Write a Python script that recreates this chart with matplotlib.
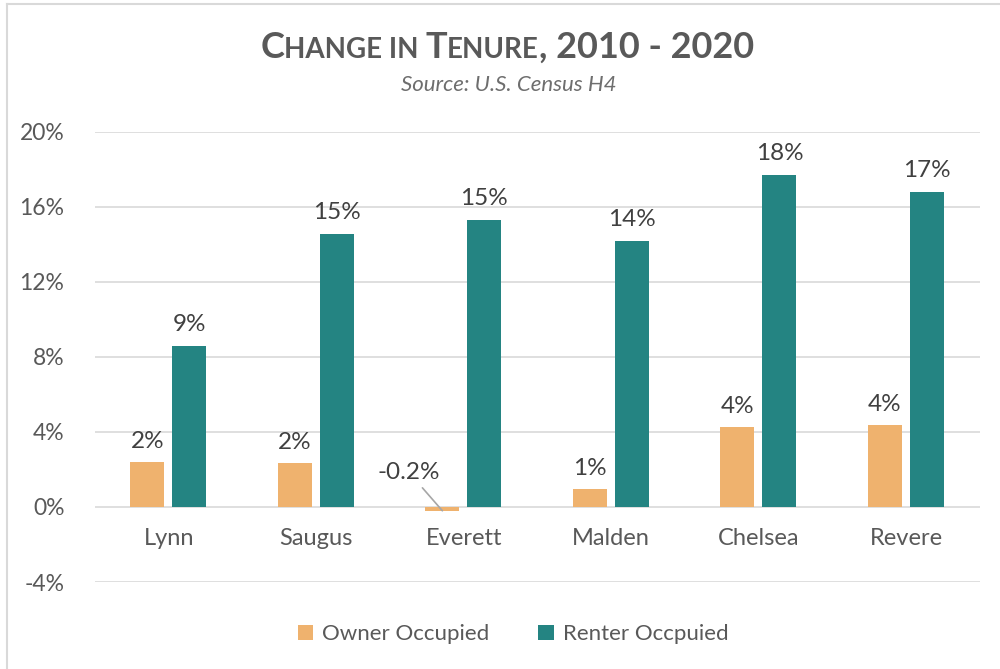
import matplotlib

matplotlib.use("Agg")
import matplotlib.pyplot as plt
import numpy as np

# data
towns = ["Lynn", "Saugus", "Everett", "Malden", "Chelsea", "Revere"]
owner = [2.4, 2.35, -0.2, 0.96, 4.27, 4.37]
renter = [8.6, 14.56, 15.3, 14.19, 17.7, 16.8]
owner_labels = ["2%", "2%", "-0.2%", "1%", "4%", "4%"]
renter_labels = ["9%", "15%", "15%", "14%", "18%", "17%"]
yticks = [-4, 0, 4, 8, 12, 16, 20]

OWNER_C = "#EFB26E"
RENTER_C = "#248482"
TXT = "#595959"
GRID = "#D9D9D9"

plt.rcParams["font.family"] = ["Lato", "DejaVu Sans"]

fig = plt.figure(figsize=(10, 6.69), dpi=100)
ax = fig.add_axes([0.095, 0.130, 0.885, 0.673])

x = np.arange(len(towns))
w = 0.23
ax.bar(x - 0.145, owner, w, color=OWNER_C, label="Owner Occupied", zorder=3)
ax.bar(x + 0.14, renter, w, color=RENTER_C, label="Renter Occpuied", zorder=3)

ax.set_xlim(-0.5, len(towns) - 0.5)
ax.set_ylim(-4, 20)
ax.set_yticks(yticks)
ax.set_yticklabels([f"{t}%" for t in yticks], fontsize=16.5, color=TXT)
ax.tick_params(axis="y", length=0, pad=22)
ax.set_xticks([])
ax.grid(axis="y", color=GRID, lw=1.2, zorder=0)
for s in ax.spines.values():
    s.set_visible(False)

for i, t in enumerate(towns):
    ax.annotate(t, (i, 0), xytext=(0, -15), textcoords="offset points",
                ha="center", va="top", fontsize=17, color=TXT)

for i, (v, lab) in enumerate(zip(renter, renter_labels)):
    ax.annotate(lab, (i + 0.14, v), xytext=(0, 8), textcoords="offset points",
                ha="center", va="bottom", fontsize=17.5, color="#404040")
for i, (v, lab) in enumerate(zip(owner, owner_labels)):
    if v < 0:
        ax.annotate(lab, (i - 0.145, v), xytext=(-24, 20), textcoords="offset points",
                    ha="center", va="bottom", fontsize=17.5, color="#404040",
                    arrowprops=dict(arrowstyle="-", color="#A6A6A6", lw=1.2,
                                    shrinkA=2, shrinkB=0))
    else:
        ax.annotate(lab, (i - 0.145, v), xytext=(0, 7), textcoords="offset points",
                    ha="center", va="bottom", fontsize=17.5, color="#404040")

leg = fig.legend(loc="center", bbox_to_anchor=(0.513, 0.052), ncol=2, frameon=False,
                 fontsize=16, handlelength=0.7, handleheight=0.7, handletextpad=0.4,
                 columnspacing=2.2)
for t in leg.get_texts():
    t.set_color(TXT)

# small-caps title, built piece by piece
pieces = [("C", 26), ("HANGE IN ", 20), ("T", 26), ("ENURE", 20), (", 2010 - 2020", 26)]
fig.canvas.draw()
r = fig.canvas.get_renderer()
texts = []
for s, sz in pieces:
    texts.append(fig.text(0, 0.913, s, fontsize=sz, fontweight="bold", color=TXT,
                          ha="left", va="baseline"))
widths = [t.get_window_extent(r).width for t in texts]
xpos = 507 - sum(widths) / 2
for t, wd in zip(texts, widths):
    t.set_x(xpos / 1000)
    xpos += wd

fig.text(0.509, 0.873, "Source: U.S. Census H4", fontsize=16, style="italic",
         color="#6E6E6E", ha="center", va="center")

# chart border
fig.add_artist(plt.Line2D([0.007, 0.007], [0, 0.994], color=GRID, lw=1.5))
fig.add_artist(plt.Line2D([0.007, 1], [0.994, 0.994], color=GRID, lw=1.5))

fig.savefig("out.png", dpi=100)
